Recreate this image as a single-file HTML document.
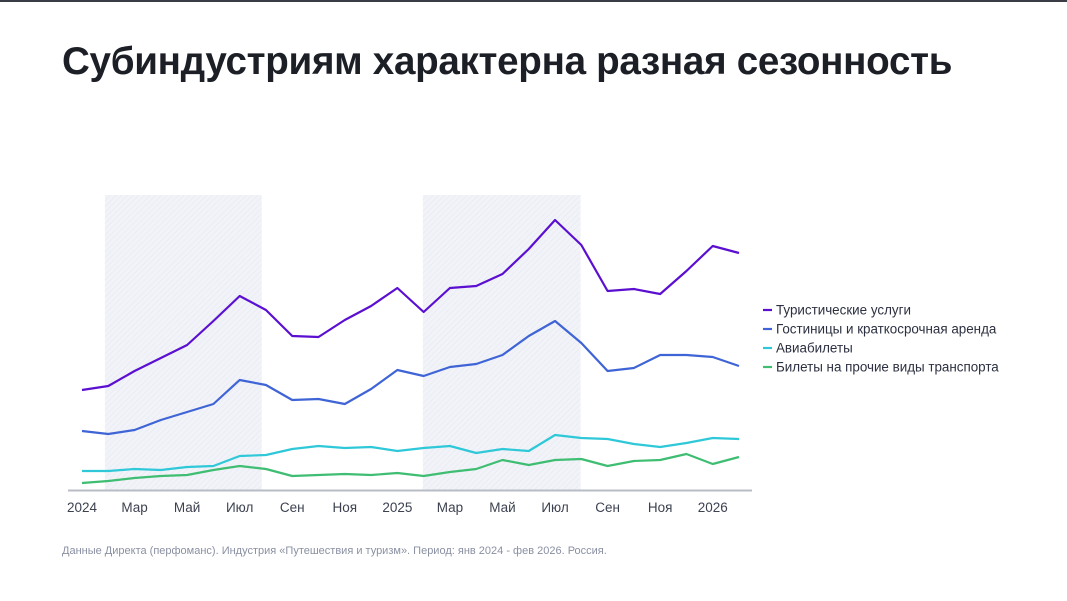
<!DOCTYPE html>
<html><head><meta charset="utf-8"><style>
body{margin:0;width:1067px;height:601px;background:#fff;overflow:hidden;font-family:"Liberation Sans",sans-serif;position:relative}
.top{position:absolute;left:0;top:0;width:1067px;height:2px;background:#3a3d45}
h1{position:absolute;left:62px;top:40px;margin:0;font-size:38.6px;font-weight:bold;color:#1c1f26;letter-spacing:-0.3px}
.foot{position:absolute;left:62px;top:545px;font-size:11px;color:#8a90a2}
svg{position:absolute;left:0;top:0}
</style></head><body>
<div class="top"></div>
<h1>Субиндустриям характерна разная сезонность</h1>
<svg id="c" width="1067" height="601">
<defs><pattern id="hatch" width="4" height="4" patternUnits="userSpaceOnUse" patternTransform="rotate(45)"><rect width="4" height="4" fill="#f1f3f8"/><line x1="0" y1="0" x2="0" y2="4" stroke="#e4e7ef" stroke-width="1"/></pattern></defs>
</svg>
<div class="foot">Данные Директа (перфоманс). Индустрия «Путешествия и туризм». Период: янв 2024 - фев 2026. Россия.</div>
<script>
const months=["2024","Фев","Мар","Апр","Май","Июн","Июл","Авг","Сен","Окт","Ноя","Дек","2025","Фев","Мар","Апр","Май","Июн","Июл","Авг","Сен","Окт","Ноя","Дек","2026","Фев"];
const tickIdx=[0,2,4,6,8,10,12,14,16,18,20,22,24];
const tours=[100,104,119,132,145,169,194,180,154,153,170,184,202,178,202,204,216,241,270,245,199,201,196,219,244,237];
const hotels=[59,56,60,70,78,86,110,105,90,91,86,101,120,114,123,126,135,154,169,147,119,122,135,135,133,124];
const avia=[19,19,21,20,23,24,34,35,41,44,42,43,39,42,44,37,41,39,55,52,51,46,43,47,52,51];
const transport=[7,9,12,14,15,20,24,21,14,15,16,15,17,14,18,21,30,25,30,31,24,29,30,36,26,33];
const seriesNames=["Туристические услуги","Гостиницы и краткосрочная аренда","Авиабилеты","Билеты на прочие виды транспорта"];
const seriesColors=["#5b0fd0","#3f64d6","#2fc8d8","#3fbd72"];
const shades=[[0.87,6.84],[12.97,18.97]];
const NS="http://www.w3.org/2000/svg";
const svg=document.getElementById('c');
const X=i=>82+i*26.28;
const Y=v=>490-v;
function mk(t,a){const e=document.createElementNS(NS,t);for(const k in a)e.setAttribute(k,a[k]);svg.appendChild(e);return e;}
shades.forEach(s=>{const r=mk('rect',{x:X(s[0]),y:195,width:X(s[1])-X(s[0]),height:295,fill:'url(#hatch)'});

});
const ax=mk('line',{x1:68,y1:490.5,x2:752,y2:490.5,stroke:'#b8bcc6','stroke-width':2});


tickIdx.forEach(i=>{const t=mk('text',{x:X(i),y:512,'text-anchor':'middle','font-size':13.5,fill:'#3d4250'});t.textContent=months[i];

});
[tours,hotels,avia,transport].forEach((d,k)=>{const p=mk('polyline',{points:d.map((v,i)=>X(i)+','+Y(v)).join(' '),fill:'none',stroke:seriesColors[k],'stroke-width':2.2,'stroke-linejoin':'round'});


const ly=310+k*19;
const l=mk('line',{x1:763,y1:ly,x2:772,y2:ly,stroke:seriesColors[k],'stroke-width':2.2});


const t=mk('text',{x:776,y:ly+4.5,'font-size':13.4,fill:'#2c3040'});t.textContent=seriesNames[k];

});
</script>
</body></html>
